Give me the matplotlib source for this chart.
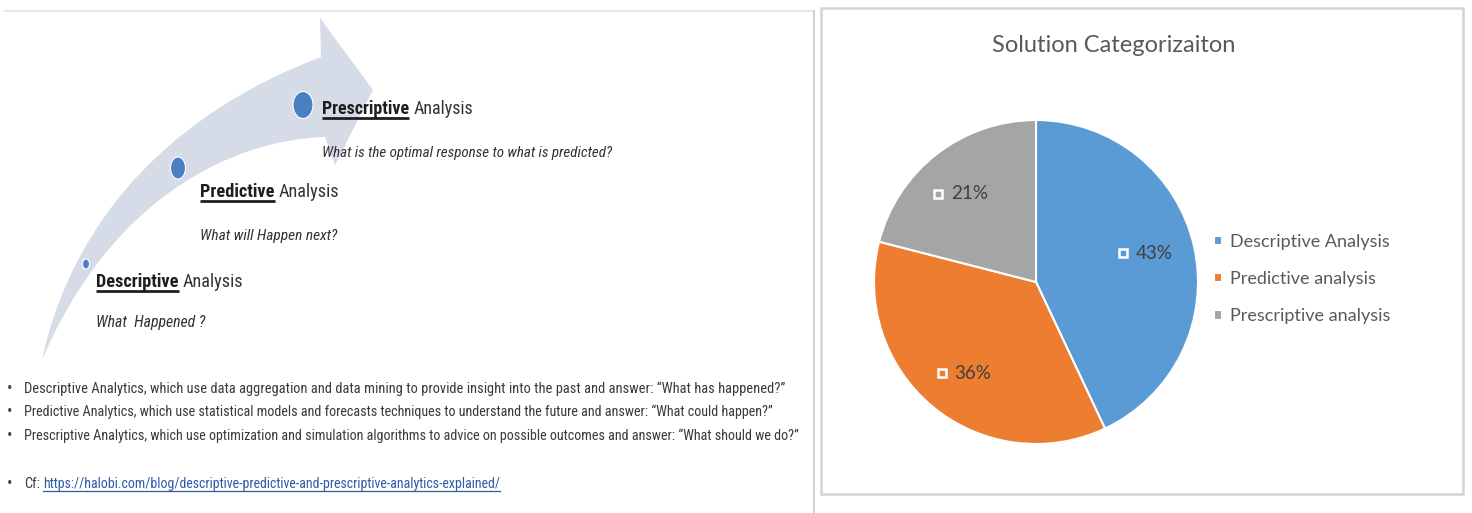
import numpy as np
import matplotlib
matplotlib.use('Agg')
import matplotlib.pyplot as plt
from matplotlib.path import Path
from matplotlib.patches import PathPatch, Rectangle, Ellipse
from matplotlib import font_manager

# pie data
categories = ['Descriptive Analysis', 'Predictive analysis', 'Prescriptive analysis']
shares = [43, 36, 21]
colors = ['#5b9bd5', '#ed7d31', '#a5a5a5']
title = 'Solution Categorizaiton'

# left diagram text
stages = ['Prescriptive', 'Predictive', 'Descriptive']
questions = ['What is the optimal response to what is predicted?',
             'What will Happen next?',
             'What  Happened ?']
bullets = ['Descriptive Analytics, which use data aggregation and data mining to provide insight into the past and answer: \u201cWhat has happened?\u201d',
           'Predictive Analytics, which use statistical models and forecasts techniques to understand the future and answer: \u201cWhat could happen?\u201d',
           'Prescriptive Analytics, which use optimization and simulation algorithms to advice on possible outcomes and answer: \u201cWhat should we do?\u201d']
link = 'https://halobi.com/blog/descriptive-predictive-and-prescriptive-analytics-explained/'

W, H = 1472, 513
fig = plt.figure(figsize=(W / 100, H / 100), dpi=100)
fig.patch.set_facecolor('white')

# pick a narrow font if one is installed
fonts = font_manager.fontManager.ttflist
names = {f.name for f in fonts}
narrow, stretch = 'Roboto', 'normal'
for cand in ['Liberation Sans Narrow', 'Arial Narrow', 'Roboto Condensed']:
    if cand in names:
        narrow = cand
        break
else:
    if any(f.name == 'DejaVu Sans' and f.stretch == 'condensed' for f in fonts):
        narrow, stretch = 'DejaVu Sans', 'condensed'
calib = 'Lato'

# overlay axes in pixel coordinates (y down)
ax = fig.add_axes([0, 0, 1, 1])
ax.set_xlim(0, W)
ax.set_ylim(H, 0)
ax.axis('off')
r = fig.canvas.get_renderer()


def fit(t, width):
    w = t.get_window_extent(r).width
    t.set_fontsize(t.get_fontsize() * width / w)
    return t.get_window_extent(r).width


# panel frames
ax.plot([5, 814], [11, 11], color='#e2e2e2', lw=1.2)
ax.plot([814, 814], [11, H], color='#c8c8c8', lw=1.2)
ax.add_patch(Rectangle((821, 8), 642, 486, fill=False, ec='#d4d4d4', lw=1.8))

# curved arrow
verts = [(42, 360), (70, 230), (160, 118), (321, 57),
         (320, 18), (373, 90), (335, 165), (325, 137),
         (230, 140), (110, 200), (42, 360), (42, 360)]
codes = [Path.MOVETO, Path.CURVE4, Path.CURVE4, Path.CURVE4,
         Path.LINETO, Path.LINETO, Path.LINETO, Path.LINETO,
         Path.CURVE4, Path.CURVE4, Path.CURVE4, Path.CLOSEPOLY]
ax.add_patch(PathPatch(Path(verts, codes), fc='#d5dce8', ec='none'))

# dots
for (dx, dy, dw, dh) in [(303, 105, 20, 27), (178, 168, 15, 22), (86, 264, 7, 10)]:
    ax.add_patch(Ellipse((dx, dy), dw, dh, fc='#4a7fc1', ec='white', lw=0.8))

# headings
head_x = [322, 200, 96]
head_y = [114, 197, 287]
bold_w = [88, 75, 83]
q_y = [157, 240, 327]
q_w = [291, 137, 109]
for s, q, x, y, bw, qy, qw in zip(stages, questions, head_x, head_y, bold_w, q_y, q_w):
    t = ax.text(x, y, s, fontsize=14, fontweight='bold', family=narrow, fontstretch=stretch,
                color='#1e1e1e', va='baseline')
    w = fit(t, bw)
    ax.plot([x, x + w], [y + 3.5, y + 3.5], color='#1e1e1e', lw=2, solid_capstyle='butt')
    ax.text(x + w + 4, y, 'Analysis', fontsize=t.get_fontsize(), family=narrow, fontstretch=stretch,
            color='#333333', va='baseline')
    tq = ax.text(x, qy, q, fontsize=11, style='italic', family=narrow, fontstretch=stretch,
                 color='#333333', va='baseline')
    fit(tq, qw)

# bullet list
line_y = [393, 416, 440]
line_w = [759, 752, 780]
for s, y, lw_ in zip(bullets, line_y, line_w):
    ax.text(7, y, '\u2022', fontsize=12, family=narrow, color='#444444', va='baseline')
    t = ax.text(24, y, s, fontsize=11, family=narrow, fontstretch=stretch, color='#3a3a3a', va='baseline')
    fit(t, lw_)
ax.text(7, 488, '\u2022', fontsize=12, family=narrow, color='#444444', va='baseline')
ax.text(24, 488, 'Cf:', fontsize=t.get_fontsize(), family=narrow, fontstretch=stretch,
        color='#3a3a3a', va='baseline')
tl = ax.text(43, 488, link, fontsize=11, family=narrow, fontstretch=stretch, color='#2d5ca6', va='baseline')
wl = fit(tl, 457)
ax.plot([43, 43 + wl], [490.5, 490.5], color='#2d5ca6', lw=0.9)

# pie chart
cx, cy, rad = 1036, 282, 162
ax2 = fig.add_axes([(cx - rad) / W, (H - cy - rad) / H, 2 * rad / W, 2 * rad / H])
wedges, _ = ax2.pie(shares, colors=colors, startangle=90, counterclock=False,
                    wedgeprops=dict(edgecolor='white', linewidth=1.5))
ax2.set_xlim(-1, 1)
ax2.set_ylim(-1, 1)
for w, v in zip(wedges, shares):
    ang = np.deg2rad((w.theta1 + w.theta2) / 2 + 2)
    lx, ly = 0.71 * np.cos(ang), 0.71 * np.sin(ang)
    ax2.plot(lx - 0.15, ly, marker='s', ms=6, mfc='none', mec='white', mew=1.8)
    ax2.text(lx - 0.07, ly, f'{v}%', ha='left', va='center', fontsize=13.5,
             color='#404040', family=calib)

fig.text(1114 / W, 1 - 46 / H, title, ha='center', va='center', fontsize=17,
         color='#595959', family=calib)
fig.legend(wedges, categories, loc='center left', bbox_to_anchor=(1198 / W, 1 - 279 / H),
           frameon=False, handlelength=0.45, handleheight=0.45, handletextpad=0.4,
           labelspacing=1.17, prop={'family': calib, 'size': 13}, labelcolor='#595959')

fig.savefig('out.png', dpi=100)
